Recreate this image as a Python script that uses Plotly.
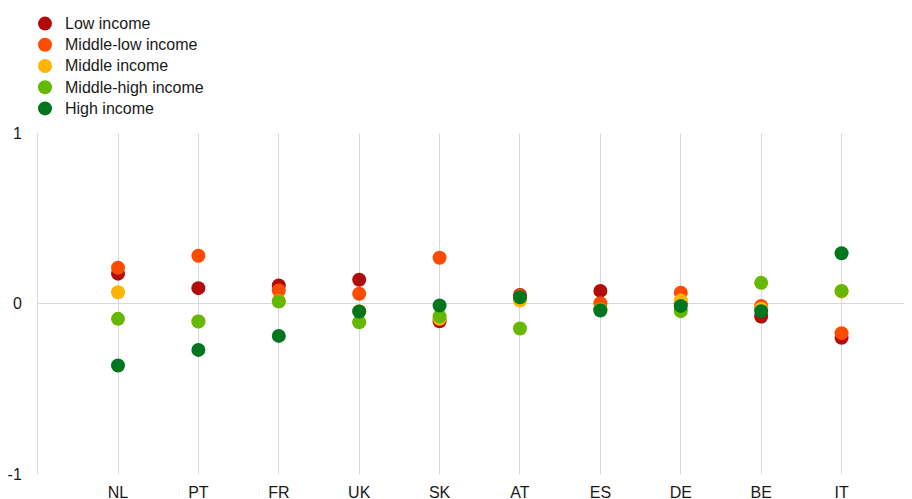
import plotly.graph_objects as go

countries = ["NL", "PT", "FR", "UK", "SK", "AT", "ES", "DE", "BE", "IT"]
series_names = ["Low income", "Middle-low income", "Middle income", "Middle-high income", "High income"]
low_income = [0.175, 0.09, 0.106, 0.139, -0.104, 0.05, 0.074, 0.0, -0.076, -0.201]
middle_low_income = [0.21, 0.28, 0.076, 0.057, 0.268, 0.045, 0.002, 0.063, -0.014, -0.174]
middle_income = [0.066, -0.105, 0.015, -0.045, -0.09, 0.018, -0.035, 0.018, -0.03, 0.07]
middle_high_income = [-0.09, -0.106, 0.012, -0.11, -0.076, -0.147, -0.035, -0.045, 0.121, 0.074]
high_income = [-0.364, -0.272, -0.19, -0.047, -0.012, 0.037, -0.041, -0.014, -0.045, 0.295]
colors = ["#B30B0B", "#FF4B00", "#FFB400", "#65B800", "#00771F"]
y_ticks = [-1, 0, 1]

# page has an 8px body margin, so the figure is sized to fit the 912x499 window
W, H = 904, 491
MB = 25
plot_left, plot_top = 30, 125

fig = go.Figure()
for name, vals, col in zip(series_names,
                           [low_income, middle_low_income, middle_income, middle_high_income, high_income],
                           colors):
    fig.add_trace(go.Scatter(x=countries, y=vals, mode="markers",
                             name=f"<span style='font-size:16px'>{name}</span>",
                             marker=dict(color=col, size=14, line=dict(width=0))))

font = dict(family="Liberation Sans, Arial, sans-serif", size=16, color="#1a1a1a")
paper_h = H - MB
fig.update_layout(
    width=W, height=H,
    margin=dict(l=0, r=0, t=0, b=MB, pad=0),
    paper_bgcolor="white", plot_bgcolor="white",
    font=font,
    showlegend=True,
    legend=dict(x=17 / W, y=1.0, xanchor="left", yanchor="top",
                font=dict(family=font["family"], size=14, color=font["color"]),
                bgcolor="rgba(0,0,0,0)", itemsizing="trace", tracegroupgap=0),
    xaxis=dict(type="category", categoryorder="array", categoryarray=countries,
               domain=[plot_left / W, 1], automargin=False,
               range=[-0.995, 9.876], showgrid=True, gridcolor="#D9D9D9", gridwidth=1,
               zeroline=False, showline=False, ticks="", ticklabelstandoff=7),
    yaxis=dict(range=[-1, 1], tickvals=y_ticks, ticktext=[str(v) for v in y_ticks],
               domain=[0, (paper_h - plot_top) / paper_h], automargin=False,
               showgrid=True, gridcolor="#D9D9D9", gridwidth=1,
               zeroline=False, showline=True, linecolor="#D9D9D9", linewidth=1,
               ticks="", ticklabelstandoff=12),
)
fig.write_html("out.html")
